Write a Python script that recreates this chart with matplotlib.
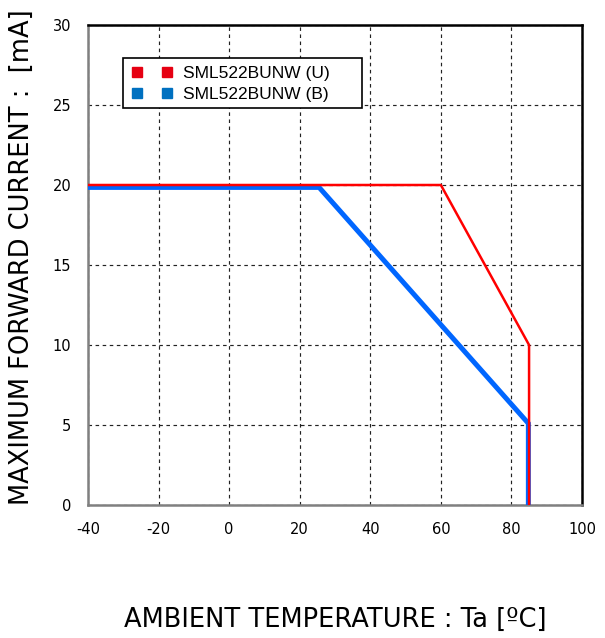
import matplotlib
matplotlib.use("Agg")
import matplotlib.pyplot as plt
from matplotlib.lines import Line2D
from matplotlib.patches import Rectangle

plt.rcParams["axes.unicode_minus"] = False

# derating curves
temp_u = [-40, 60, 85, 85]
curr_u = [20, 20, 10, 0]
temp_b = [-40, 25.5, 84.8, 84.8]
curr_b = [19.85, 19.85, 5.1, 0]
xticks = [-40, -20, 0, 20, 40, 60, 80, 100]
yticks = [0, 5, 10, 15, 20, 25, 30]
names = ["SML522BUNW (U)", "SML522BUNW (B)"]

fig = plt.figure(figsize=(6.05, 6.38), dpi=100)
ax = fig.add_axes([88/605, 1-505/638, 494/605, 480/638])

ax.plot(temp_b, curr_b, color="#0066FF", lw=3.6, solid_joinstyle="miter", zorder=3)
ax.plot(temp_u, curr_u, color="#FF0000", lw=1.8, zorder=4)

ax.set_xlim(-40, 100)
ax.set_ylim(0, 30)
ax.set_xticks(xticks)
ax.set_yticks(yticks)
ax.tick_params(length=0, labelsize=10.5, pad=12)
for lab in ax.get_xticklabels() + ax.get_yticklabels():
    lab.set_family("DejaVu Sans")
ax.grid(True, color="#222222", ls=(0, (3, 3)), lw=0.85)

ax.spines["left"].set_color("#808080")
ax.spines["bottom"].set_color("#808080")
for side in ["left", "bottom", "top", "right"]:
    ax.spines[side].set_linewidth(1.8)

# legend box is wider than its entries, so draw the frame separately
ax.add_patch(Rectangle((0.0709, 0.827), 0.4838, 0.104, transform=ax.transAxes,
                       facecolor="white", edgecolor="black", lw=1.2, zorder=5))
handles = [
    Line2D([], [], ls="none", marker="s", ms=7.5, color="#E60012"),
    Line2D([], [], ls="none", marker="s", ms=7.5, color="#0070C0"),
]
leg = ax.legend(handles, names, loc="upper left", bbox_to_anchor=(0.0769, 0.927),
                numpoints=2, frameon=False, borderaxespad=0,
                handlelength=2.32, handletextpad=0.62,
                labelspacing=0.3, borderpad=0.35,
                prop={"family": "Liberation Sans", "size": 12.5})
leg.set_zorder(6)

fig.text(0.036, 0.597, "MAXIMUM FORWARD CURRENT :  [mA]", rotation=90,
         ha="center", va="center", fontsize=18.5, family="DejaVu Sans")
fig.text(0.555, 0.028, "AMBIENT TEMPERATURE : Ta [\u00baC]", ha="center",
         va="center", fontsize=18.5, family="DejaVu Sans")

fig.savefig("out.png", dpi=100)
